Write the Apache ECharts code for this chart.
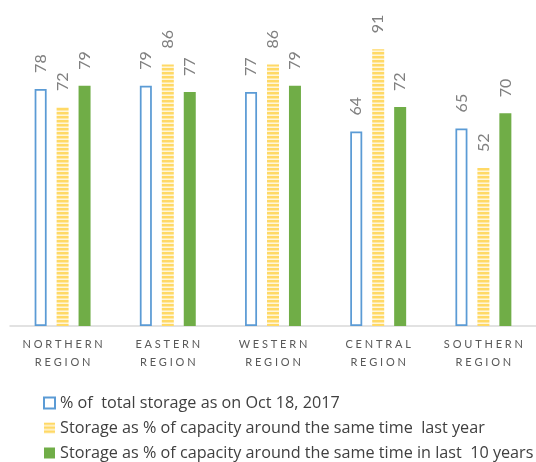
<!DOCTYPE html>
<html>
<head>
<meta charset="utf-8">
<script src="https://cdn.jsdelivr.net/npm/echarts@6/dist/echarts.min.js"></script>
<style>
  html, body { margin: 0; padding: 0; background: #fff; }
  #chart { width: 536px; height: 462px; }
</style>
</head>
<body>
<div id="chart"></div>
<script>
// Reservoir storage by region (%)
const regions = ['NORTHERN\nREGION', 'EASTERN\nREGION', 'WESTERN\nREGION', 'CENTRAL\nREGION', 'SOUTHERN\nREGION'];
const seriesNames = [
  '% of  total storage as on Oct 18, 2017',
  'Storage as % of capacity around the same time  last year',
  'Storage as % of capacity around the same time in last  10 years'
];
const currentStorage = [78, 79, 77, 64, 65];
const lastYear = [72, 86, 86, 91, 52];
const tenYearAvg = [79, 77, 79, 72, 70];

// spaced capitals for the category labels
function spaced(s) {
  return s.split('\n').map(line => line.split('').join(' ')).join('\n');
}

// horizontal stripe fill for the "last year" bars
function stripePattern() {
  const c = document.createElement('canvas');
  c.width = 4; c.height = 4;
  const g = c.getContext('2d');
  g.fillStyle = '#FFF6DA'; g.fillRect(0, 0, 4, 4);
  g.fillStyle = '#FFD966'; g.fillRect(0, 0, 4, 2);
  g.fillStyle = '#FFE9A6'; g.fillRect(0, 2, 4, 1);
  return { image: c, repeat: 'repeat' };
}

const labelCfg = {
  show: true,
  position: 'top',
  rotate: 90,
  align: 'left',
  verticalAlign: 'middle',
  distance: 16,
  color: '#808080',
  fontSize: 16,
  fontFamily: 'Lato'
};

const chart = echarts.init(document.getElementById('chart'), null, { renderer: 'canvas' });
chart.setOption({
  animation: false,
  textStyle: { fontFamily: 'Lato' },
  grid: { left: 10, width: 530, top: 22, bottom: 136 },
  legend: {
    orient: 'vertical',
    left: 43,
    top: 394,
    padding: 0,
    itemWidth: 11,
    itemHeight: 11,
    itemGap: 7,
    icon: 'rect',
    textStyle: { color: '#404040', fontSize: 16.2, lineHeight: 18, fontFamily: 'Open Sans' },
    data: seriesNames
  },
  xAxis: {
    type: 'category',
    data: regions.map(spaced),
    axisLine: { lineStyle: { color: '#D9D9D9', width: 1.5 } },
    axisTick: { show: false },
    axisLabel: { color: '#595959', fontSize: 11, lineHeight: 18, margin: 9, fontFamily: 'Lato' }
  },
  yAxis: {
    type: 'value', min: 0, max: 100, show: false,
    splitLine: { show: false }
  },
  series: [
    {
      name: seriesNames[0], type: 'bar', data: currentStorage,
      barWidth: 12, barGap: '83%',
      itemStyle: { color: '#FFFFFF', borderColor: '#5B9BD5', borderWidth: 1.75 },
      label: labelCfg
    },
    {
      name: seriesNames[1], type: 'bar', data: lastYear,
      barWidth: 12, barGap: '83%',
      itemStyle: { color: stripePattern() },
      label: labelCfg
    },
    {
      name: seriesNames[2], type: 'bar', data: tenYearAvg,
      barWidth: 12, barGap: '83%',
      itemStyle: { color: '#70AD47' },
      label: labelCfg
    }
  ]
});
</script>
</body>
</html>
